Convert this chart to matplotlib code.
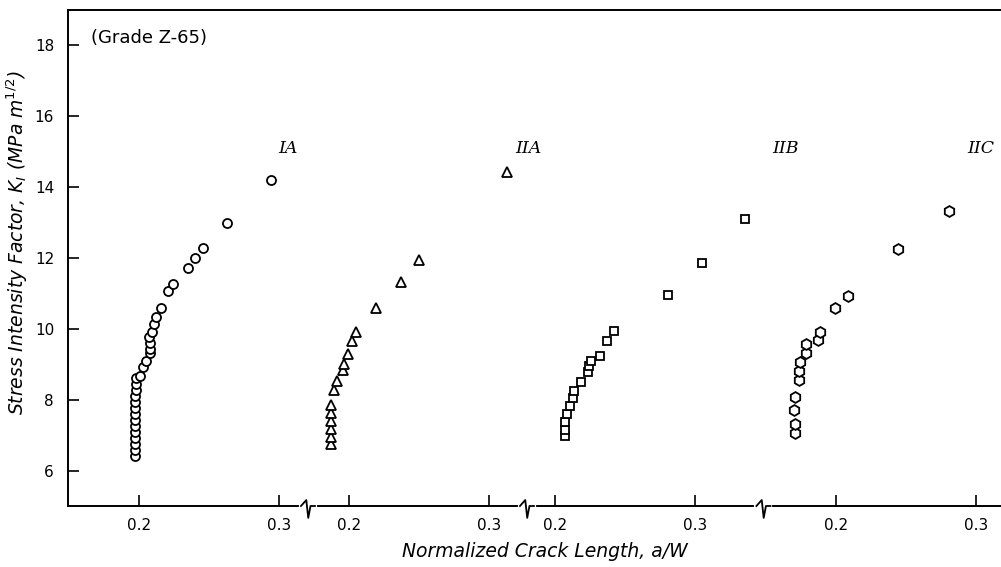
# -*- coding: utf-8 -*-
"""
K_I versus normalized crack length, Grade Z-65, four broken-axis groups
"""

import numpy as np
import matplotlib
matplotlib.use("Agg")
import matplotlib.pyplot as plt
import matplotlib.transforms as mtransforms

# --- Data (a/W, K_I) ---
aw_IA = [0.197, 0.197, 0.197, 0.197, 0.197, 0.197, 0.197, 0.197, 0.197, 0.197,
         0.197, 0.198, 0.198, 0.198, 0.201, 0.203, 0.205, 0.208, 0.208, 0.208,
         0.2075, 0.2095, 0.211, 0.212, 0.2155, 0.221, 0.224, 0.235, 0.240, 0.246,
         0.263, 0.294]
K_IA = [6.40, 6.58, 6.75, 6.92, 7.09, 7.26, 7.43, 7.60, 7.77, 7.94,
        8.11, 8.28, 8.45, 8.60, 8.67, 8.91, 9.10, 9.32, 9.44, 9.59,
        9.76, 9.91, 10.15, 10.33, 10.58, 11.08, 11.26, 11.71, 12.00, 12.29,
        12.98, 14.21]

aw_IIA = [0.187, 0.187, 0.187, 0.187, 0.187, 0.187, 0.1893, 0.1917, 0.196, 0.1966,
          0.1993, 0.2019, 0.205, 0.2191, 0.2373, 0.2498, 0.3126]
K_IIA = [6.74, 6.96, 7.18, 7.40, 7.62, 7.84, 8.28, 8.54, 8.83, 9.02,
         9.30, 9.66, 9.91, 10.59, 11.31, 11.94, 14.43]

aw_IIB = [0.2076, 0.2076, 0.2071, 0.2086, 0.2109, 0.2131, 0.2136, 0.2186, 0.2234, 0.2243,
          0.2262, 0.2324, 0.2374, 0.2426, 0.2807, 0.305, 0.3362]
K_IIB = [6.98, 7.15, 7.38, 7.59, 7.82, 8.05, 8.24, 8.51, 8.79, 8.96,
         9.09, 9.24, 9.65, 9.94, 10.96, 11.85, 13.10]

aw_IIC = [0.1707, 0.1707, 0.1702, 0.1705, 0.1731, 0.1731, 0.1741, 0.1781, 0.1784, 0.1867,
          0.1881, 0.1988, 0.2086, 0.2438, 0.2805]
K_IIC = [7.06, 7.31, 7.71, 8.07, 8.55, 8.81, 9.07, 9.32, 9.56, 9.69,
         9.91, 10.60, 10.94, 12.26, 13.34]

series_labels = ["IA", "IIA", "IIB", "IIC"]
marcadores = ["o", "^", "s", "h"]
tamanhos = [6.5, 7.5, 6.3, 7.8]
tick_values = [0.2, 0.3]

# deslocamento de cada grupo no eixo x (eixo quebrado)
offsets = [0.0, 0.15, 0.297, 0.498]
# onde o eixo é quebrado (coordenada do grupo anterior)
quebras = [0.3207, 0.3271, 0.3490]

series = [(aw_IA, K_IA), (aw_IIA, K_IIA), (aw_IIB, K_IIB), (aw_IIC, K_IIC)]
# posição dos rótulos (a/W, K) dentro de cada grupo
rotulos_pos = [(0.2993, 15.1), (0.3186, 15.1), (0.355, 15.1), (0.2936, 15.1)]

# --- Figura ---
fig = plt.figure(figsize=(10.01, 5.67), dpi=100)
ax = fig.add_axes([68 / 1001, 61 / 567, 933 / 1001, 496 / 567])

for (aw, K), off, mk, ms in zip(series, offsets, marcadores, tamanhos):
    ax.plot(np.array(aw) + off, K, linestyle="none", marker=mk,
            markersize=ms, markerfacecolor="white",
            markeredgecolor="black", markeredgewidth=1.3, clip_on=False)

for (xl, yl), off, lab in zip(rotulos_pos, offsets, series_labels):
    ax.text(xl + off, yl, lab, family="DejaVu Serif", style="italic",
            fontsize=12.5, ha="left", va="center")

ax.text(0.1655, 18.2, "(Grade Z-65)", fontsize=13, ha="left", va="center")

# eixos
ax.set_xlim(0.1493, 0.8157)
ax.set_ylim(5, 19)

xt = [v + off for off in offsets for v in tick_values]
ax.set_xticks(xt)
ax.set_xticklabels([f"{v:.1f}" for off in offsets for v in tick_values])
ax.set_yticks([6, 8, 10, 12, 14, 16, 18])
ax.tick_params(direction="in", length=8, width=1.2, labelsize=11)
ax.tick_params(axis="x", pad=9)
ax.tick_params(axis="y", pad=10)

ax.spines["right"].set_visible(False)
for s in ["left", "bottom", "top"]:
    ax.spines[s].set_linewidth(1.4)

# marcas de quebra no eixo x
trans = mtransforms.blended_transform_factory(ax.transData, ax.transAxes)
for i, q in enumerate(quebras):
    xq = q + offsets[i]
    ax.plot([xq - 0.005, xq + 0.005], [0, 0], color="white", lw=3,
            transform=trans, clip_on=False, zorder=5)
    ax.plot([xq - 0.005, xq - 0.0012, xq + 0.0002, xq + 0.0018, xq + 0.005],
            [0, 0.012, -0.024, 0.0, 0.0], color="black", lw=1.3,
            transform=trans, clip_on=False, zorder=6)

ax.set_xlabel("Normalized Crack Length, a/W", style="italic", fontsize=13.5)
ax.xaxis.set_label_coords((545 - 68) / 933, -0.072)
ax.set_ylabel(r"Stress Intensity Factor, $K_I$ (MPa m$^{1/2}$)", style="italic",
              fontsize=13.5)
ax.yaxis.set_label_coords(-38 / 933, 0.53)

fig.savefig("out.png", dpi=100)
